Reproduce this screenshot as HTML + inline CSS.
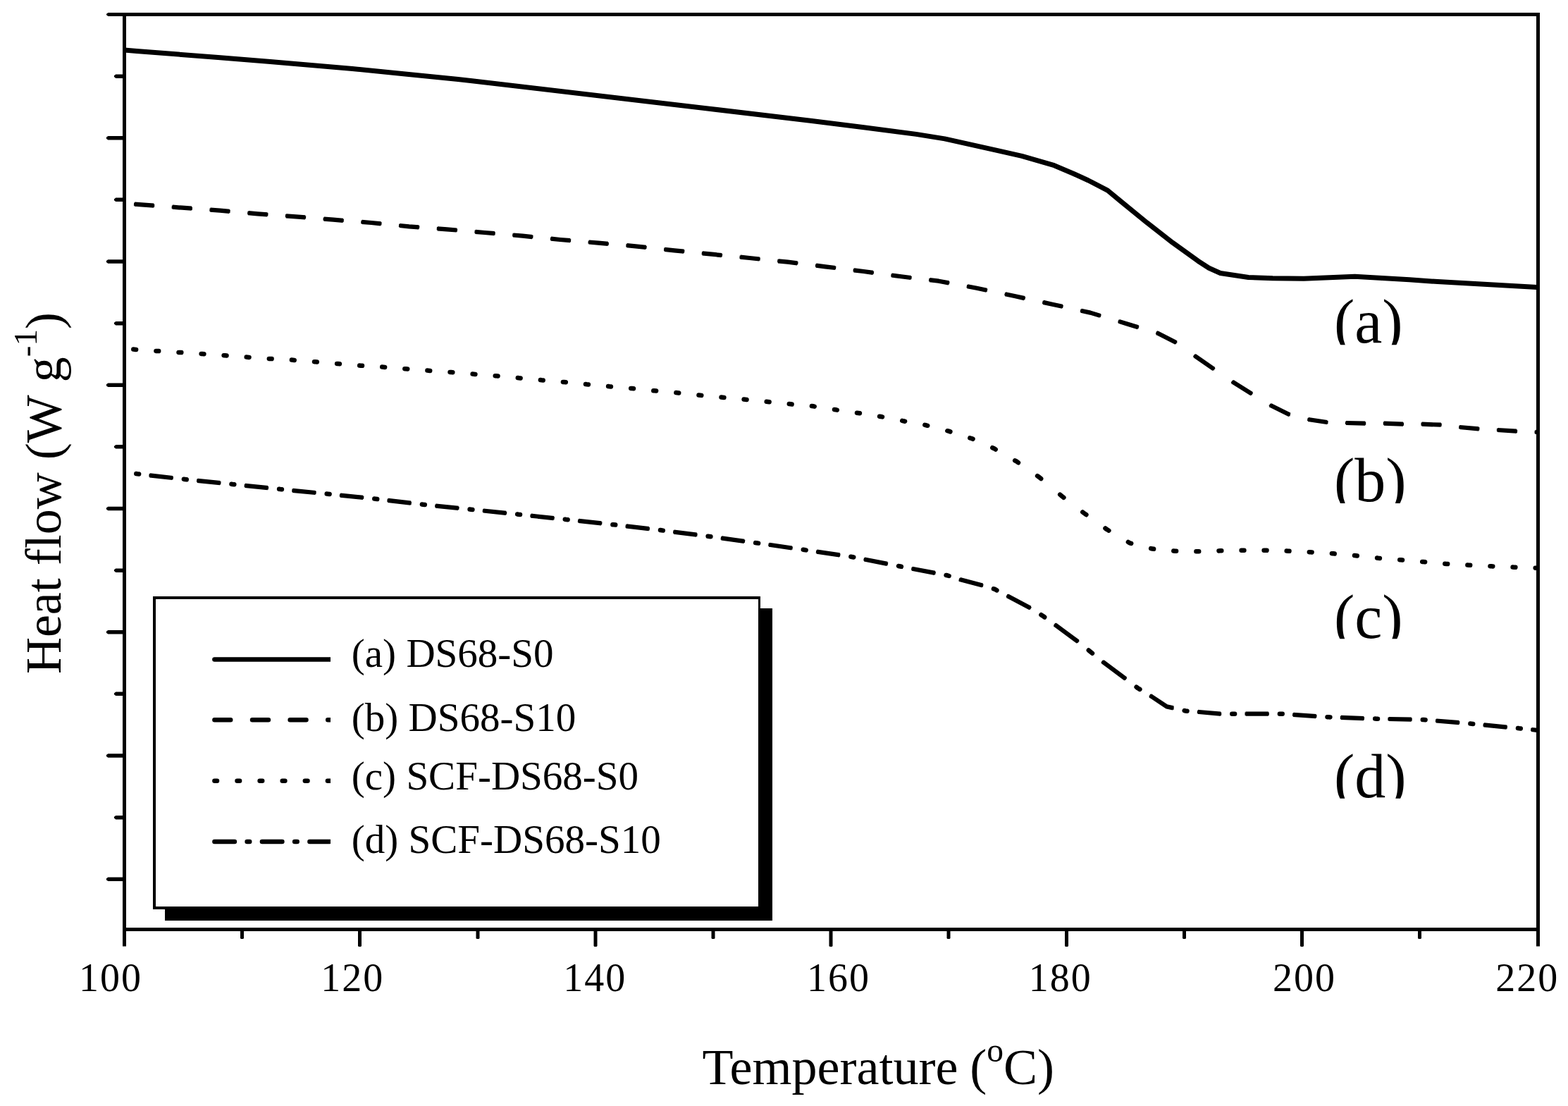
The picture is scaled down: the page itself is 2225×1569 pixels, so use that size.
<!DOCTYPE html>
<html lang="en">
<head>
<meta charset="utf-8">
<title>DSC heat flow curves</title>
<style>
html,body{margin:0;padding:0;background:#fff;}
body{width:2225px;height:1569px;overflow:hidden;}
svg{display:block;}
text{font-family:"Liberation Serif","Times New Roman",serif;fill:#000;stroke:none;font-variant-ligatures:none;font-kerning:none;}
</style>
</head>
<body>
<svg xmlns="http://www.w3.org/2000/svg" width="2225" height="1569" viewBox="0 0 2225 1569">
<rect width="2225" height="1569" fill="#fff"/>
<clipPath id="plotclip"><rect x="176" y="20" width="2004.5" height="1298"/></clipPath>
<g id="curves" clip-path="url(#plotclip)">
<path d="M176.5 71.1 L194.0 72.5 L309.5 81.5 L383.6 87.5 L500.0 97.5 L575.0 104.9 L650.0 112.6 L670.0 114.7 L917.0 143.7 L1000.0 153.5 L1150.0 171.3 L1224.0 180.5 L1300.0 190.4 L1340.5 196.9 L1374.2 204.3 L1414.6 213.4 L1450.0 221.3 L1495.9 234.7 L1524.2 246.7 L1544.4 256.0 L1571.7 270.1 L1590.0 285.2 L1627.8 316.1 L1664.2 344.4 L1700.0 370.2 L1715.5 380.2 L1731.7 387.5 L1771.5 393.5 L1805.9 394.8 L1850.0 395.3 L1922.5 392.2 L2000.0 396.8 L2040.0 399.6 L2181.0 407.5" fill="none" stroke="#000" stroke-width="7.00" stroke-linejoin="round" stroke-linecap="butt"/>
<path d="M189.3 495.6 L191.0 495.7 L193.1 495.9 M221.4 497.9 L223.1 498.0 L225.2 498.1 M253.5 499.9 L255.2 500.0 L257.3 500.1 M285.6 501.9 L287.3 502.0 L289.4 502.2 M317.6 504.2 L319.3 504.3 L321.5 504.5 M349.7 506.6 L351.4 506.7 L353.5 506.9 M381.8 508.9 L383.5 509.0 L385.6 509.1 M413.9 510.6 L415.6 510.7 L417.7 510.9 M446.0 513.2 L447.7 513.3 L449.8 513.5 M478.1 515.9 L479.8 516.0 L481.9 516.2 M510.2 518.6 L511.9 518.7 L514.0 518.8 M542.2 520.6 L544.0 520.7 L546.1 520.9 M574.3 523.2 L576.0 523.3 L578.2 523.5 M606.4 525.6 L608.1 525.7 L610.2 525.9 M638.5 527.9 L640.2 528.0 L642.3 528.2 M670.6 530.6 L672.3 530.7 L674.4 530.9 M702.7 533.2 L704.4 533.3 L706.5 533.5 M734.8 536.1 L736.5 536.3 L738.6 536.5 M766.9 539.1 L768.6 539.3 L770.7 539.5 M798.9 541.9 L800.7 542.0 L802.8 542.2 M831.0 545.1 L832.7 545.3 L834.9 545.5 M863.1 548.1 L864.8 548.3 L866.9 548.5 M895.2 550.9 L896.9 551.0 L899.0 551.2 M927.3 554.2 L928.7 554.3 L931.1 554.5 M959.4 557.1 L961.3 557.3 L963.2 557.5 M991.5 560.5 L993.7 560.7 L995.3 560.9 M1023.5 563.5 L1025.3 563.7 L1027.4 563.9 M1055.6 566.5 L1057.7 566.7 L1059.5 566.9 M1087.7 569.8 L1089.7 570.0 L1091.6 570.2 M1119.8 573.1 L1122.0 573.3 L1123.6 573.5 M1151.9 576.1 L1154.0 576.3 L1155.7 576.6 M1184.0 581.0 L1186.0 581.3 L1187.8 581.6 M1216.0 585.7 L1218.0 586.0 L1219.9 586.3 M1248.1 590.7 L1250.0 591.0 L1252.0 591.4 M1280.2 596.9 L1282.0 597.3 L1284.1 597.7 M1312.3 602.9 L1314.3 603.3 L1316.2 603.8 M1344.3 611.2 L1346.3 611.7 L1348.4 612.4 M1376.3 621.3 L1378.7 622.0 L1380.5 622.8 M1408.3 635.2 L1410.7 636.3 L1412.7 637.5 M1440.2 653.3 L1442.7 654.7 L1445.0 656.3 M1472.1 675.2 L1474.7 677.0 L1477.2 679.1 M1504.2 701.6 L1507.0 704.0 L1509.4 705.8 M1536.3 726.5 L1539.0 728.5 L1541.4 730.2 M1568.5 749.5 L1571.0 751.3 L1573.4 752.7 M1600.9 769.0 L1603.0 770.3 L1605.2 770.9 M1633.2 778.0 L1635.3 778.6 L1637.1 778.8 M1665.3 781.5 L1667.3 781.7 L1669.1 781.7 M1697.4 782.3 L1699.7 782.3 L1701.2 782.3 M1729.5 781.4 L1731.3 781.3 L1733.3 781.3 M1761.6 780.7 L1763.7 780.7 L1765.4 780.7 M1793.6 780.7 L1795.7 780.7 L1797.5 780.8 M1825.7 781.6 L1827.7 781.7 L1829.5 781.8 M1857.8 783.2 L1859.7 783.3 L1861.6 783.4 M1889.9 785.2 L1892.0 785.3 L1893.7 785.5 M1922.0 788.1 L1924.0 788.3 L1925.8 788.5 M1954.1 791.5 L1955.7 791.7 L1957.9 791.9 M1986.2 794.2 L1988.0 794.3 L1990.0 794.5 M2018.2 796.9 L2020.0 797.0 L2022.1 797.2 M2050.3 799.8 L2052.3 800.0 L2054.2 800.1 M2082.4 801.6 L2084.3 801.7 L2086.2 801.8 M2114.5 803.2 L2116.3 803.3 L2118.3 803.4 M2146.6 804.6 L2148.3 804.7 L2150.4 804.8 M2178.7 805.7 L2181.0 805.8 L2182.5 805.9 M193.3 672.1 L195.0 672.3 L197.1 672.5 M260.9 679.8 L262.3 680.0 L264.7 680.3 M328.5 686.8 L330.0 687.0 L332.3 687.2 M396.1 693.8 L397.7 694.0 L399.9 694.2 M463.7 700.6 L465.0 700.7 L467.6 701.0 M531.3 707.6 L532.7 707.7 L535.2 708.0 M598.9 715.6 L600.0 715.7 L602.8 716.0 M666.6 722.6 L668.0 722.7 L670.4 722.9 M734.2 729.5 L735.7 729.7 L738.0 729.9 M801.8 736.8 L803.3 737.0 L805.6 737.2 M869.4 744.2 L870.7 744.3 L873.2 744.6 M937.0 752.1 L938.7 752.3 L940.8 752.6 M1004.6 760.8 L1006.3 761.0 L1008.4 761.3 M1072.2 770.1 L1073.7 770.3 L1076.1 770.6 M1139.8 779.8 L1141.3 780.0 L1143.7 780.4 M1207.4 789.8 L1208.7 790.0 L1211.3 790.5 M1275.0 803.0 L1276.3 803.3 L1278.9 803.8 M1342.5 816.0 L1344.3 816.3 L1346.6 817.0 M1409.9 835.3 L1411.3 835.7 L1414.4 837.4 M1477.4 872.2 L1479.7 873.7 L1482.2 875.5 M1544.8 922.5 L1547.5 924.7 L1550.0 926.7 M1612.6 974.7 L1614.7 976.3 L1617.4 977.9 M1680.7 1008.1 L1682.3 1008.5 L1684.5 1008.7 M1748.3 1012.7 L1750.3 1012.7 L1752.1 1012.7 M1815.9 1012.7 L1818.0 1012.7 L1819.7 1012.8 M1883.5 1017.2 L1885.7 1017.3 L1887.4 1017.4 M1951.2 1019.6 L1953.0 1019.7 L1955.0 1019.7 M2018.8 1021.0 L2020.3 1021.0 L2022.6 1021.2 M2086.4 1026.6 L2088.0 1026.7 L2090.2 1026.9 M2154.0 1033.1 L2155.7 1033.3 L2157.8 1033.5" fill="none" stroke="#000" stroke-width="6.50" stroke-linejoin="round" stroke-linecap="round"/>
<path d="M190.0 289.6 L204.3 290.7 L219.2 291.8 M243.7 293.6 L258.3 294.7 L272.9 295.8 M297.4 297.6 L312.2 298.7 L326.6 299.9 M351.2 302.1 L365.5 303.3 L380.4 304.4 M404.9 306.2 L419.8 307.3 L434.1 308.5 M458.6 310.5 L472.8 311.7 L487.8 312.9 M512.3 314.8 L527.0 316.0 L541.5 317.4 M566.0 319.9 L580.5 321.3 L595.2 322.4 M619.8 324.2 L634.2 325.3 L649.0 326.6 M673.5 328.7 L687.8 330.0 L702.7 331.3 M727.2 333.4 L741.5 334.7 L756.4 336.2 M780.9 338.6 L795.0 340.0 L810.1 341.3 M834.6 343.5 L849.0 344.7 L863.8 346.0 M888.4 348.1 L902.0 349.3 L917.6 351.0 M942.1 353.7 L957.0 355.3 L971.3 356.7 M995.8 359.2 L1010.3 360.7 L1025.0 362.2 M1049.5 364.6 L1063.7 366.0 L1078.7 367.6 M1103.2 370.2 L1117.7 371.7 L1132.4 373.5 M1157.0 376.5 L1171.3 378.3 L1186.2 380.1 M1210.7 383.2 L1225.3 385.0 L1239.9 387.0 M1264.4 390.3 L1278.7 392.3 L1293.6 394.1 M1318.1 397.0 L1332.0 398.7 L1347.3 401.5 M1371.8 406.1 L1386.0 408.7 L1401.0 411.9 M1425.6 417.0 L1439.7 420.0 L1454.8 423.3 M1479.3 428.6 L1493.3 431.7 L1508.5 435.1 M1533.0 440.5 L1547.2 443.6 L1562.2 448.2 M1586.7 455.6 L1601.0 460.0 L1615.9 464.5 M1640.4 471.9 L1643.0 472.7 L1667.0 485.0 L1669.6 486.8 M1694.2 503.9 L1694.7 504.3 L1721.3 522.7 L1723.4 524.1 M1747.9 540.9 L1749.0 541.7 L1775.7 558.3 L1777.1 559.1 M1801.6 574.1 L1803.0 575.0 L1829.7 588.3 L1830.8 588.6 M1855.3 594.8 L1856.3 595.0 L1883.0 599.0 L1884.5 599.1 M1909.0 599.9 L1910.7 600.0 L1936.3 600.7 L1938.2 600.7 M1962.8 600.7 L1964.0 600.7 L1990.3 601.7 L1992.0 601.7 M2016.5 601.7 L2017.3 601.7 L2044.7 602.7 L2045.7 602.8 M2070.2 605.9 L2071.3 606.0 L2098.0 608.3 L2099.4 608.4 M2123.9 610.0 L2124.7 610.0 L2151.3 611.7 L2153.1 611.8 M2177.6 612.9 L2181.0 613.0 L2206.8 614.1" fill="none" stroke="#000" stroke-width="4.20" stroke-linejoin="round" stroke-linecap="butt"/>
<path d="M191.0 289.7 L204.3 290.7 L218.2 291.7 M244.7 293.7 L258.3 294.7 L271.9 295.7 M298.4 297.7 L312.2 298.7 L325.6 299.9 M352.2 302.1 L365.5 303.3 L379.4 304.3 M405.9 306.3 L419.8 307.3 L433.1 308.4 M459.6 310.6 L472.8 311.7 L486.8 312.8 M513.3 314.9 L527.0 316.0 L540.5 317.3 M567.0 320.0 L580.5 321.3 L594.2 322.3 M620.8 324.3 L634.2 325.3 L648.0 326.5 M674.5 328.8 L687.8 330.0 L701.7 331.2 M728.2 333.5 L741.5 334.7 L755.4 336.1 M781.9 338.7 L795.0 340.0 L809.1 341.2 M835.6 343.5 L849.0 344.7 L862.8 345.9 M889.4 348.2 L902.0 349.3 L916.6 350.9 M943.1 353.8 L957.0 355.3 L970.3 356.6 M996.8 359.3 L1010.3 360.7 L1024.0 362.1 M1050.5 364.7 L1063.7 366.0 L1077.7 367.5 M1104.2 370.3 L1117.7 371.7 L1131.4 373.4 M1158.0 376.7 L1171.3 378.3 L1185.2 380.0 M1211.7 383.3 L1225.3 385.0 L1238.9 386.9 M1265.4 390.5 L1278.7 392.3 L1292.6 394.0 M1319.1 397.2 L1332.0 398.7 L1346.3 401.4 M1372.8 406.3 L1386.0 408.7 L1400.1 411.7 M1426.5 417.2 L1439.7 420.0 L1453.8 423.1 M1480.3 428.9 L1493.3 431.7 L1507.5 434.8 M1534.0 440.7 L1547.2 443.6 L1561.2 447.9 M1587.7 455.9 L1601.0 460.0 L1615.0 464.2 M1641.3 472.2 L1643.0 472.7 L1667.0 485.0 L1668.8 486.2 M1695.0 504.5 L1721.3 522.7 L1722.5 523.5 M1748.7 541.5 L1749.0 541.7 L1775.7 558.3 L1776.2 558.6 M1802.5 574.7 L1803.0 575.0 L1829.7 588.3 L1829.9 588.4 M1856.3 595.0 L1883.0 599.0 L1883.5 599.0 M1910.0 600.0 L1910.7 600.0 L1936.3 600.7 L1937.2 600.7 M1963.8 600.7 L1964.0 600.7 L1990.3 601.7 L1991.0 601.7 M2017.5 601.7 L2044.7 602.7 M2071.2 606.0 L2071.3 606.0 L2098.0 608.3 L2098.4 608.3 M2124.9 610.0 L2151.3 611.7 L2152.1 611.7 M2178.6 612.9 L2181.0 613.0 L2205.8 614.1" fill="none" stroke="#000" stroke-width="6.20" stroke-linejoin="round" stroke-linecap="butt"/>
<path d="M211.5 674.2 L245.8 678.1 M279.1 681.7 L313.4 685.3 M346.7 688.7 L381.0 692.3 M414.3 695.7 L448.6 699.1 M481.9 702.5 L516.2 706.0 M549.5 709.7 L583.8 713.8 M617.2 717.5 L651.5 721.0 M684.8 724.4 L719.1 728.0 M752.4 731.5 L786.7 735.2 M820.0 738.8 L854.3 742.5 M887.6 746.3 L921.9 750.3 M955.2 754.4 L989.5 758.8 M1022.8 763.3 L1057.1 768.0 M1090.4 772.7 L1124.7 777.6 M1158.0 782.5 L1192.3 787.6 M1225.6 793.3 L1259.9 800.1 M1293.3 806.5 L1327.6 813.1 M1360.9 821.6 L1362.0 822.0 L1394.7 830.7 L1395.2 830.8 M1428.5 844.7 L1430.3 845.7 L1462.0 862.7 L1462.8 863.2 M1496.1 885.5 L1497.8 886.7 L1529.0 909.8 L1530.4 910.9 M1563.7 937.9 L1565.8 939.6 L1596.6 962.6 L1598.0 963.7 M1631.3 986.4 L1634.0 988.0 L1655.6 1002.4 L1665.5 1004.6 L1665.6 1004.6 M1698.9 1009.8 L1701.3 1010.0 L1731.3 1012.7 L1733.2 1012.7 M1766.5 1012.7 L1800.8 1012.7 M1834.1 1013.8 L1868.4 1016.1 M1901.8 1017.9 L1936.0 1019.1 M1969.4 1020.0 L2003.7 1020.7 M2037.0 1022.4 L2071.3 1025.3 M2104.6 1028.3 L2138.9 1031.7 M2172.2 1034.9 L2181.0 1035.8 L2206.5 1038.3" fill="none" stroke="#000" stroke-width="4.20" stroke-linejoin="round" stroke-linecap="butt"/>
<path d="M212.5 674.3 L244.8 678.0 M280.1 681.8 L312.4 685.2 M347.7 688.8 L380.0 692.2 M415.3 695.8 L447.6 699.0 M482.9 702.6 L515.2 705.9 M550.5 709.8 L582.9 713.7 M618.2 717.6 L650.5 720.9 M685.8 724.5 L718.1 727.9 M753.4 731.6 L785.7 735.1 M821.0 738.9 L853.3 742.4 M888.6 746.4 L920.9 750.2 M956.2 754.6 L988.5 758.7 M1023.8 763.4 L1056.1 767.9 M1091.4 772.8 L1123.7 777.5 M1159.0 782.6 L1191.4 787.4 M1226.6 793.5 L1259.0 799.9 M1294.2 806.7 L1326.6 812.9 M1361.8 821.9 L1362.0 822.0 L1394.2 830.6 M1429.4 845.2 L1430.3 845.7 L1461.9 862.6 M1496.9 886.0 L1497.8 886.7 L1529.0 909.8 L1529.6 910.3 M1564.5 938.5 L1565.8 939.6 L1596.6 962.6 L1597.2 963.1 M1632.1 986.9 L1634.0 988.0 L1655.6 1002.4 L1664.8 1004.4 M1699.9 1009.9 L1701.3 1010.0 L1731.3 1012.7 L1732.2 1012.7 M1767.5 1012.7 L1799.8 1012.7 M1835.1 1013.9 L1867.4 1016.1 M1902.7 1017.9 L1935.1 1019.1 M1970.4 1020.0 L2002.7 1020.7 M2038.0 1022.5 L2070.3 1025.2 M2105.6 1028.4 L2137.9 1031.6 M2173.2 1035.0 L2181.0 1035.8 L2205.5 1038.2" fill="none" stroke="#000" stroke-width="6.20" stroke-linejoin="round" stroke-linecap="butt"/>
</g>
<g id="axes">
<g fill="#000" stroke="none"><rect x="174" y="18" width="5" height="1324.5"/>
<rect x="2180" y="18" width="5" height="1324.5"/>
<rect x="174" y="18" width="2011" height="5"/>
<rect x="174" y="1316" width="2011" height="5"/>
<path d="M175 18 H153.3 L150.9 20 V21 L153.3 23 H175 Z M175 105.38 H164.3 L161.9 107.22 V109.03 L164.3 110.88 H175 Z M175 193.00 H153.3 L150.9 194.85 V196.65 L153.3 198.50 H175 Z M175 280.62 H164.3 L161.9 282.48 V284.27 L164.3 286.12 H175 Z M175 368.25 H153.3 L150.9 370.10 V371.90 L153.3 373.75 H175 Z M175 455.88 H164.3 L161.9 457.73 V459.52 L164.3 461.38 H175 Z M175 543.50 H153.3 L150.9 545.35 V547.15 L153.3 549.00 H175 Z M175 631.12 H164.3 L161.9 632.98 V634.77 L164.3 636.62 H175 Z M175 718.75 H153.3 L150.9 720.60 V722.40 L153.3 724.25 H175 Z M175 806.38 H164.3 L161.9 808.23 V810.02 L164.3 811.88 H175 Z M175 894.00 H153.3 L150.9 895.85 V897.65 L153.3 899.50 H175 Z M175 981.62 H164.3 L161.9 983.48 V985.27 L164.3 987.12 H175 Z M175 1069.25 H153.3 L150.9 1071.10 V1072.90 L153.3 1074.75 H175 Z M175 1156.88 H164.3 L161.9 1158.72 V1160.53 L164.3 1162.38 H175 Z M175 1244.50 H153.3 L150.9 1246.35 V1248.15 L153.3 1250.00 H175 Z M341.0 1318 H346.0 V1331 L345.0 1332 H342.0 L341.0 1331 Z M508.0 1318 H513.0 V1342 L512.0 1343 H509.0 L508.0 1342 Z M675.5 1318 H680.5 V1331 L679.5 1332 H676.5 L675.5 1331 Z M842.5 1318 H847.5 V1342 L846.5 1343 H843.5 L842.5 1342 Z M1009.5 1318 H1014.5 V1331 L1013.5 1332 H1010.5 L1009.5 1331 Z M1176.5 1318 H1181.5 V1342 L1180.5 1343 H1177.5 L1176.5 1342 Z M1343.5 1318 H1348.5 V1331 L1347.5 1332 H1344.5 L1343.5 1331 Z M1511.0 1318 H1516.0 V1342 L1515.0 1343 H1512.0 L1511.0 1342 Z M1678.0 1318 H1683.0 V1331 L1682.0 1332 H1679.0 L1678.0 1331 Z M1845.0 1318 H1850.0 V1342 L1849.0 1343 H1846.0 L1845.0 1342 Z M2012.0 1318 H2017.0 V1331 L2016.0 1332 H2013.0 L2012.0 1331 Z"/></g>
</g>
<g id="legend">
<rect x="234" y="863" width="862" height="443" fill="#000"/>
<rect x="217" y="846" width="862" height="444" fill="#000"/>
<rect x="221" y="850" width="855" height="436" fill="#fff"/>
<clipPath id="lc"><rect x="290" y="900" width="179" height="330"/></clipPath>
<g clip-path="url(#lc)" fill="none" stroke="#000" stroke-width="6.5" stroke-linecap="round"><path d="M304.4 935.6 H479.0" /><path d="M304.4 1021.3 H327.2 M358.0 1021.3 H380.9 M411.6 1021.3 H434.5 M465.2 1021.3 H488.1"/><path d="M304.4 1107.7 H308.0 M336.5 1107.7 H340.1 M368.6 1107.7 H372.2 M400.7 1107.7 H404.4 M432.8 1107.7 H436.5 M464.9 1107.7 H468.6"/><path d="M304.4 1193.9 H332.9 M350.6 1193.9 H354.2 M371.9 1193.9 H400.4 M418.1 1193.9 H421.7 M439.4 1193.9 H467.9 M485.6 1193.9 H489.2"/></g>
<text transform="translate(498.8,946.3) scale(0.984,1)" font-size="58">(a) DS68-S0</text>
<text transform="translate(498.8,1037.3) scale(0.984,1)" font-size="58">(b) DS68-S10</text>
<text transform="translate(498.8,1119.5) scale(0.984,1)" font-size="58">(c) SCF-DS68-S0</text>
<text transform="translate(498.8,1210.2) scale(0.984,1)" font-size="58">(d) SCF-DS68-S10</text>
</g>
<g id="labels">
<text transform="translate(112.1,1405.6) scale(0.965,1)" font-size="58" letter-spacing="2.09">100</text>
<text transform="translate(455.2,1405.6) scale(0.965,1)" font-size="58" letter-spacing="2.09">120</text>
<text transform="translate(799.3,1405.6) scale(0.965,1)" font-size="58" letter-spacing="2.09">140</text>
<text transform="translate(1145.1,1405.6) scale(0.965,1)" font-size="58" letter-spacing="2.09">160</text>
<text transform="translate(1459.8,1405.6) scale(0.965,1)" font-size="58" letter-spacing="2.09">180</text>
<text transform="translate(1805.9,1405.6) scale(0.965,1)" font-size="58" letter-spacing="2.09">200</text>
<text transform="translate(2122.2,1405.6) scale(0.965,1)" font-size="58" letter-spacing="2.09">220</text>
<clipPath id="ac0"><rect x="1886" y="409.3" width="140" height="80.0"/></clipPath>
<text x="1893.0" y="486.2" font-size="88" clip-path="url(#ac0)">(a)</text>
<clipPath id="ac1"><rect x="1886" y="634.0" width="140" height="80.0"/></clipPath>
<text x="1893.0" y="710.9" font-size="88" clip-path="url(#ac1)">(b)</text>
<clipPath id="ac2"><rect x="1886" y="826.2" width="140" height="80.0"/></clipPath>
<text x="1893.0" y="904.6" font-size="88" clip-path="url(#ac2)">(c)</text>
<clipPath id="ac3"><rect x="1886" y="1052.7" width="140" height="80.0"/></clipPath>
<text x="1893.0" y="1130.9" font-size="88" clip-path="url(#ac3)">(d)</text>
<text x="996.6" y="1538.3" font-size="72" style="font-kerning:normal">Temperature<tspan dx="-1"> (</tspan><tspan font-size="47.5" dy="-32.5">o</tspan><tspan dy="32.5">C)</tspan></text>
<text transform="translate(85.7,956.1) rotate(-90)" font-size="72">Heat flow (W g<tspan font-size="47" dy="-34">-1</tspan><tspan dy="34">)</tspan></text>
</g>
</svg>
</body>
</html>
